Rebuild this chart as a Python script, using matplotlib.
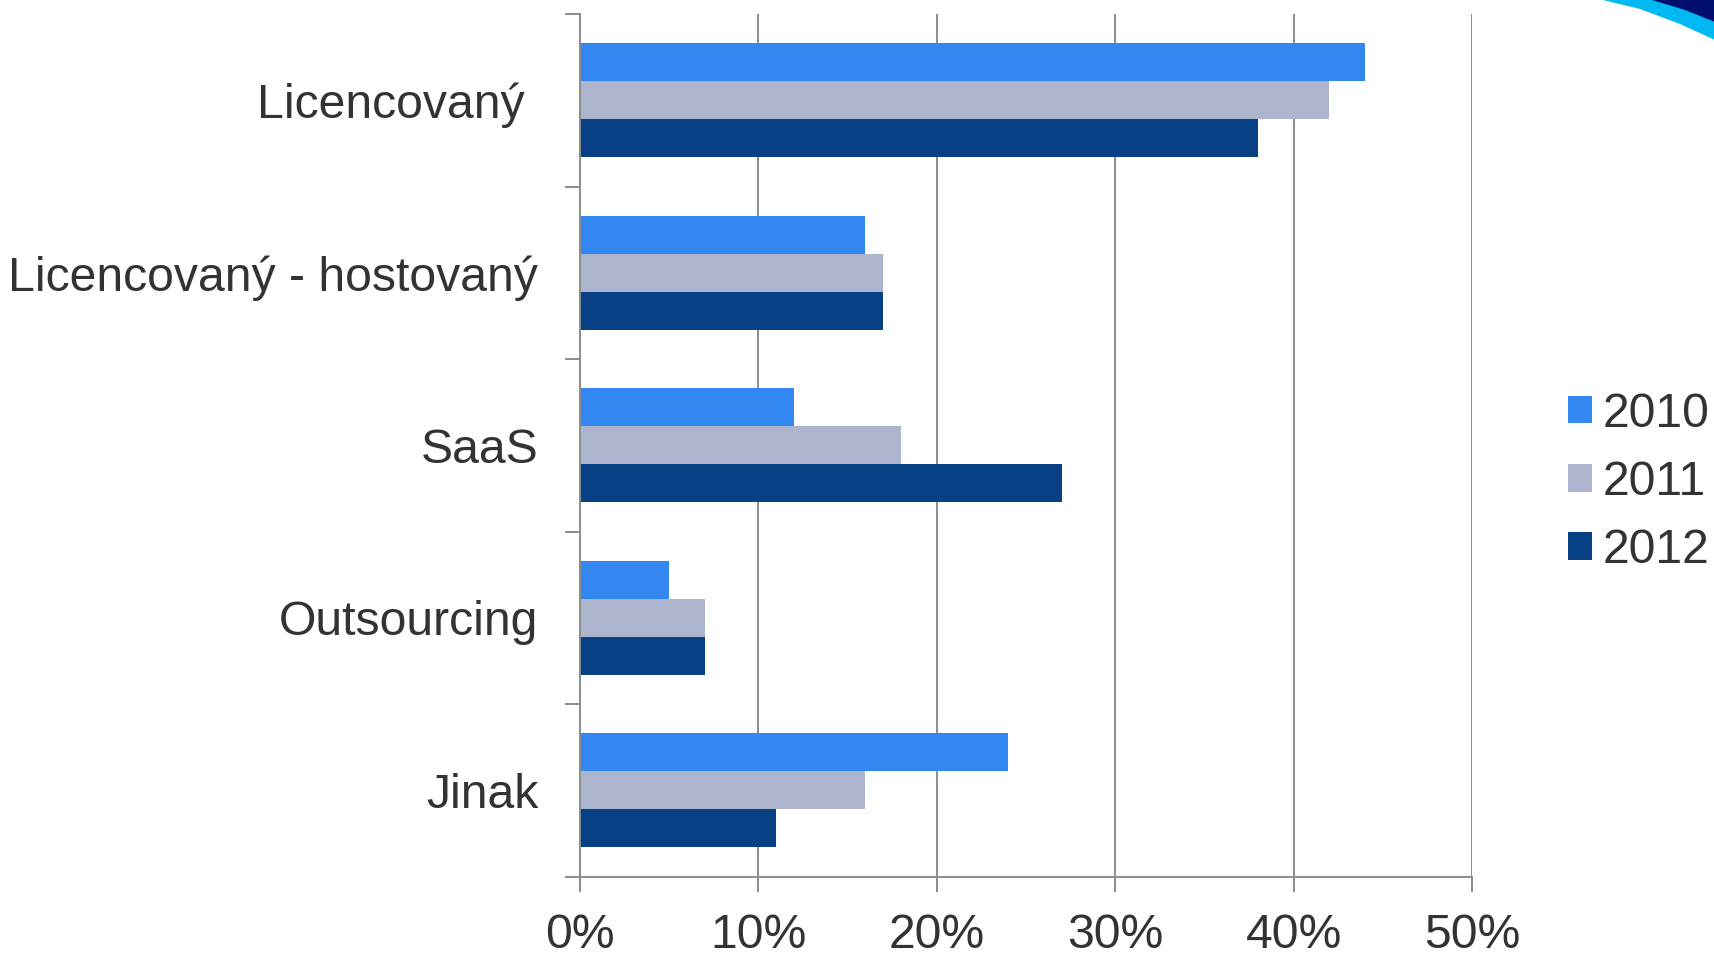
import numpy as np
import matplotlib
matplotlib.use("Agg")
import matplotlib.pyplot as plt
from matplotlib.patches import Polygon, Patch


categories = ["Licencovaný ", "Licencovaný - hostovaný", "SaaS", "Outsourcing", "Jinak"]
years = ["2010", "2011", "2012"]
values_2010 = [44, 16, 12, 5, 24]
values_2011 = [42, 17, 18, 7, 16]
values_2012 = [38, 17, 27, 7, 11]
colors = ["#3288F0", "#ADB5CE", "#084086"]
x_ticks = [0, 10, 20, 30, 40, 50]

TEXT = "#333333"
GRID = "#8C8C8C"
FS = 34.7

plt.rcParams['font.family'] = ['Liberation Sans', 'DejaVu Sans']

W, H = 1715, 955
fig = plt.figure(figsize=(W / 100, H / 100), dpi=100)
ax = fig.add_axes([580 / W, 1 - 876.7 / H, (1472 - 580) / W, (876.7 - 14) / H])

series = [values_2010, values_2011, values_2012]
pos = np.arange(len(categories))
bar_h = 0.22
for i, (vals, col) in enumerate(zip(series, colors)):
    ax.barh(pos + (i - 1) * bar_h, np.array(vals) / 100, height=bar_h,
            color=col, zorder=3, label=years[i])

ax.set_ylim(len(categories) - 0.5, -0.5)
ax.set_xlim(0, 0.5)

# category separators as major ticks, labels on minor ticks
ax.set_yticks(np.arange(-0.5, len(categories)), labels=[])
ax.set_yticks(pos, labels=categories, minor=True)
ax.tick_params(axis='y', which='major', length=10.8, width=1.4, color=GRID, direction='out')
ax.tick_params(axis='y', which='minor', length=0, pad=30, labelsize=FS, labelcolor=TEXT)

ax.set_xticks([t / 100 for t in x_ticks], labels=[f"{t}%" for t in x_ticks])
ax.tick_params(axis='x', length=10.8, width=1.4, color=GRID, direction='out',
               pad=15, labelsize=FS, labelcolor=TEXT)

ax.grid(axis='x', color=GRID, linewidth=1.4, zorder=0)
for side in ["top", "right"]:
    ax.spines[side].set_visible(False)
for side in ["left", "bottom"]:
    ax.spines[side].set_color(GRID)
    ax.spines[side].set_linewidth(1.4)
    ax.spines[side].set_zorder(4)

handles = [Patch(facecolor=c, label=y) for c, y in zip(colors, years)]
leg = fig.legend(handles=handles, loc='center left', bbox_to_anchor=(1568 / W, 1 - 482.5 / H),
                 frameon=False, fontsize=FS, handlelength=0.5, handleheight=0.5,
                 handletextpad=0.22, labelspacing=0.48, borderaxespad=0, borderpad=0)
for t in leg.get_texts():
    t.set_color(TEXT)

# decorative swoosh in the top right corner
def px(pts):
    return [(x / W, 1 - y / H) for x, y in pts]

light = px([(1603, 0), (1715, 0), (1715, 40), (1680, 24), (1640, 9)])
dark = px([(1652, 0), (1715, 0), (1715, 22), (1685, 10)])
fig.patches.append(Polygon(light, closed=True, facecolor="#00B9F2", edgecolor="none",
                           transform=fig.transFigure, figure=fig))
fig.patches.append(Polygon(dark, closed=True, facecolor="#000F6E", edgecolor="none",
                           transform=fig.transFigure, figure=fig))

fig.savefig("out.png", dpi=100)
